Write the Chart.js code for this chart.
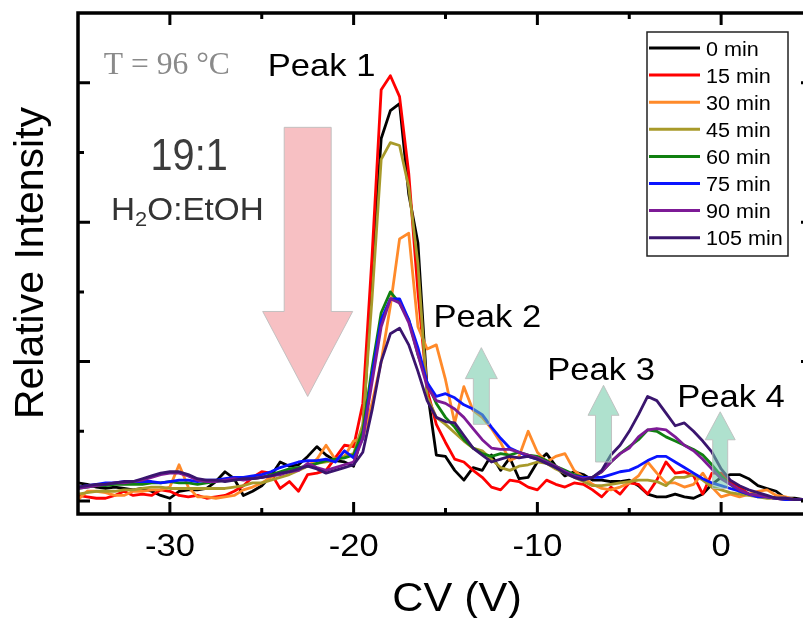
<!DOCTYPE html>
<html>
<head>
<meta charset="utf-8">
<script src="https://cdn.jsdelivr.net/npm/chart.js@4.4.1/dist/chart.umd.min.js"></script>
<style>
  html, body { margin: 0; padding: 0; background: #fff; overflow: hidden; }
  #wrap { width: 820px; height: 618px; }
</style>
</head>
<body>
<div id="wrap"><canvas id="cvChart" width="820" height="618"></canvas></div>
<script>
// compensation voltage grid (V)
const cv = [-35,-34.5,-34,-33.5,-33,-32.5,-32,-31.5,-31,-30.5,
  -30,-29.5,-29,-28.5,-28,-27.5,-27,-26.5,-26,-25.5,
  -25,-24.5,-24,-23.5,-23,-22.5,-22,-21.5,-21,-20.5,
  -20,-19.5,-19,-18.5,-18,-17.5,-17,-16.5,-16,-15.5,
  -15,-14.5,-14,-13.5,-13,-12.5,-12,-11.5,-11,-10.5,
  -10,-9.5,-9,-8.5,-8,-7.5,-7,-6.5,-6,-5.5,
  -5,-4.5,-4,-3.5,-3,-2.5,-2,-1.5,-1,-0.5,
  0,0.5,1,1.5,2,2.5,3,3.5,4,4.5];

// relative intensity for each heating time
const min0 = [0.13,0.12,0.10,0.09,0.10,0.09,0.08,0.09,0.07,0.04,
  0.02,0.07,0.08,0.08,0.09,0.14,0.21,0.16,0.04,0.07,
  0.11,0.18,0.28,0.25,0.26,0.32,0.39,0.33,0.29,0.28,
  0.25,0.5,1.6,2.6,2.8,2.85,2.2,1.85,0.8,0.33,
  0.32,0.22,0.15,0.24,0.22,0.33,0.22,0.31,0.16,0.17,
  0.28,0.34,0.25,0.18,0.21,0.19,0.15,0.15,0.14,0.14,
  0.15,0.11,0.05,0.03,0.03,0.05,0.03,0.02,0.05,0.12,
  0.17,0.19,0.19,0.16,0.11,0.09,0.07,0.02,0.02,0.01];
const min15 = [0.04,0.03,0.02,0.02,0.04,0.07,0.04,0.05,0.04,0.08,
  0.07,0.04,0.03,0.04,0.02,0.03,0.04,0.07,0.11,0.17,
  0.21,0.2,0.09,0.14,0.07,0.19,0.2,0.22,0.31,0.40,
  0.39,0.7,1.75,2.95,3.05,2.9,2.35,1.5,0.8,0.55,
  0.42,0.3,0.28,0.22,0.17,0.1,0.08,0.15,0.14,0.1,
  0.08,0.15,0.12,0.1,0.13,0.12,0.08,0.03,0.1,0.05,
  0.13,0.12,0.05,0.15,0.28,0.2,0.21,0.18,0.05,0.2,
  0.2,0.14,0.1,0.05,0.04,0.03,0.02,0.01,0.01,0.01];
const min30 = [0.01,0.07,0.07,0.06,0.04,0.04,0.07,0.07,0.08,0.08,
  0.1,0.26,0.1,0.03,0.03,0.02,0.03,0.04,0.08,0.1,
  0.13,0.17,0.2,0.22,0.23,0.25,0.3,0.40,0.3,0.32,
  0.43,0.45,0.7,1.0,1.4,1.88,1.92,1.25,1.09,1.12,
  0.87,0.56,0.82,0.65,0.6,0.52,0.42,0.29,0.32,0.5,
  0.35,0.28,0.32,0.34,0.22,0.17,0.12,0.09,0.08,0.1,
  0.13,0.18,0.28,0.2,0.13,0.13,0.1,0.12,0.2,0.1,
  0.03,0.05,0.03,0.05,0.07,0.08,0.04,0.03,0.01,0.01];
const min45 = [0.05,0.06,0.07,0.07,0.07,0.08,0.08,0.09,0.1,0.1,
  0.09,0.09,0.09,0.09,0.09,0.09,0.09,0.1,0.11,0.13,
  0.13,0.15,0.17,0.19,0.22,0.25,0.27,0.28,0.29,0.32,
  0.34,0.55,1.45,2.45,2.57,2.55,2.25,1.7,0.75,0.6,
  0.55,0.49,0.43,0.38,0.36,0.3,0.24,0.22,0.25,0.26,
  0.28,0.27,0.23,0.2,0.17,0.14,0.11,0.11,0.12,0.13,
  0.14,0.15,0.15,0.14,0.11,0.17,0.17,0.19,0.15,0.1,
  0.08,0.06,0.05,0.04,0.03,0.02,0.02,0.01,0.01,0.01];
const min60 = [0.09,0.1,0.11,0.11,0.12,0.12,0.12,0.12,0.13,0.13,
  0.14,0.13,0.13,0.12,0.13,0.14,0.15,0.15,0.16,0.16,
  0.17,0.19,0.21,0.23,0.24,0.25,0.27,0.29,0.3,0.31,
  0.33,0.5,0.95,1.35,1.5,1.42,1.3,1.05,0.85,0.7,
  0.6,0.53,0.44,0.38,0.34,0.32,0.34,0.33,0.35,0.33,
  0.32,0.29,0.25,0.22,0.19,0.17,0.17,0.21,0.28,0.34,
  0.39,0.44,0.51,0.5,0.46,0.43,0.4,0.37,0.33,0.26,
  0.18,0.12,0.07,0.05,0.04,0.03,0.02,0.02,0.01,0.01];
const min75 = [0.1,0.11,0.12,0.13,0.13,0.14,0.14,0.14,0.14,0.13,
  0.14,0.15,0.15,0.14,0.15,0.15,0.16,0.17,0.17,0.18,
  0.19,0.21,0.24,0.26,0.28,0.29,0.29,0.3,0.28,0.36,
  0.31,0.45,0.9,1.3,1.45,1.45,1.3,1.1,0.85,0.75,
  0.77,0.74,0.69,0.66,0.62,0.53,0.45,0.38,0.35,0.32,
  0.3,0.28,0.24,0.21,0.18,0.17,0.17,0.17,0.19,0.21,
  0.22,0.25,0.29,0.32,0.32,0.28,0.24,0.2,0.16,0.13,
  0.11,0.09,0.07,0.05,0.03,0.03,0.02,0.01,0.01,0.01];
const min90 = [0.09,0.1,0.11,0.12,0.13,0.13,0.14,0.15,0.17,0.19,
  0.2,0.2,0.18,0.15,0.14,0.14,0.15,0.16,0.15,0.16,
  0.17,0.18,0.19,0.21,0.22,0.27,0.24,0.22,0.24,0.26,
  0.28,0.45,0.85,1.25,1.45,1.42,1.28,1.05,0.82,0.72,
  0.7,0.66,0.6,0.52,0.44,0.38,0.37,0.37,0.35,0.33,
  0.31,0.28,0.25,0.21,0.18,0.16,0.17,0.21,0.28,0.34,
  0.38,0.46,0.51,0.52,0.51,0.46,0.4,0.36,0.3,0.23,
  0.16,0.12,0.08,0.05,0.04,0.03,0.02,0.02,0.01,0.01];
const min105 = [0.1,0.11,0.12,0.12,0.13,0.14,0.14,0.16,0.18,0.2,
  0.21,0.21,0.19,0.16,0.15,0.15,0.14,0.15,0.16,0.16,
  0.17,0.18,0.2,0.21,0.23,0.25,0.23,0.2,0.22,0.24,
  0.26,0.35,0.65,1.0,1.2,1.24,1.12,0.93,0.72,0.6,
  0.57,0.56,0.47,0.38,0.33,0.28,0.3,0.32,0.31,0.32,
  0.3,0.27,0.24,0.2,0.17,0.15,0.17,0.22,0.33,0.4,
  0.5,0.62,0.75,0.72,0.63,0.54,0.56,0.5,0.43,0.35,
  0.23,0.15,0.11,0.08,0.06,0.04,0.02,0.02,0.01,0.01];

const seriesLabels = ['0 min', '15 min', '30 min', '45 min', '60 min', '75 min', '90 min', '105 min'];
const seriesColors = ['#000000', '#ff0000', '#ff8a2a', '#a89a2a', '#108010', '#0a14ff', '#7d1a96', '#3a156e'];

const xTickLabels = [-30, -20, -10, 0];
const xMinorTicks = [-25, -15, -5];
const yMajorTicks = [0, 1, 2, 3];
const yMinorTicks = [0.5, 1.5, 2.5];

const SANS = '"Liberation Sans", Arial, sans-serif';
const SERIF = '"Liberation Serif", "Times New Roman", serif';

// text drawn slightly wide, like the exported figure
function wideText(ctx, text, x, y, font, color, align, sx) {
  ctx.save();
  ctx.font = font;
  ctx.fillStyle = color;
  ctx.textAlign = align || 'left';
  ctx.textBaseline = 'alphabetic';
  ctx.translate(x, y);
  ctx.scale(sx || 1.08, 1);
  ctx.fillText(text, 0, 0);
  ctx.restore();
}

function blockArrow(ctx, x, yTail, yTip, shaft, head, headLen, fill, stroke) {
  const dir = yTip > yTail ? 1 : -1;
  const yBase = yTip - dir * headLen;
  ctx.beginPath();
  ctx.moveTo(x - shaft / 2, yTail);
  ctx.lineTo(x - shaft / 2, yBase);
  ctx.lineTo(x - head / 2, yBase);
  ctx.lineTo(x, yTip);
  ctx.lineTo(x + head / 2, yBase);
  ctx.lineTo(x + shaft / 2, yBase);
  ctx.lineTo(x + shaft / 2, yTail);
  ctx.closePath();
  ctx.fillStyle = fill;
  ctx.fill();
  ctx.strokeStyle = stroke;
  ctx.lineWidth = 1;
  ctx.stroke();
}

const decorations = {
  id: 'decorations',
  afterDatasetsDraw(chart) {
    const { ctx, chartArea: a, scales: { x, y } } = chart;
    ctx.save();

    // trend arrows (drawn over the traces, half transparent)
    const pink = 'rgba(240,130,135,0.5)';
    const mint = 'rgba(110,200,165,0.55)';
    const edge = 'rgba(190,190,190,0.9)';
    blockArrow(ctx, x.getPixelForValue(-22.5), y.getPixelForValue(2.68), y.getPixelForValue(0.75), 47, 90, 85, pink, edge);
    blockArrow(ctx, x.getPixelForValue(-13.05), y.getPixelForValue(0.55), y.getPixelForValue(1.1), 16, 32, 31, mint, edge);
    blockArrow(ctx, x.getPixelForValue(-6.4), y.getPixelForValue(0.28), y.getPixelForValue(0.83), 16, 31, 30, mint, edge);
    blockArrow(ctx, x.getPixelForValue(-0.05), y.getPixelForValue(0.09), y.getPixelForValue(0.64), 15, 30, 28, mint, edge);

    // frame with inward ticks on all four sides
    ctx.strokeStyle = '#000';
    ctx.lineWidth = 3.5;
    ctx.strokeRect(a.left, a.top, a.right - a.left, a.bottom - a.top);
    ctx.lineWidth = 3;
    ctx.beginPath();
    const xTick = (v, len) => {
      const px = x.getPixelForValue(v);
      ctx.moveTo(px, a.bottom); ctx.lineTo(px, a.bottom - len);
      ctx.moveTo(px, a.top); ctx.lineTo(px, a.top + len);
    };
    const yTick = (v, len) => {
      const py = y.getPixelForValue(v);
      ctx.moveTo(a.left, py); ctx.lineTo(a.left + len, py);
      ctx.moveTo(a.right, py); ctx.lineTo(a.right - len, py);
    };
    xTickLabels.forEach(v => xTick(v, 12));
    xMinorTicks.forEach(v => xTick(v, 6));
    yMajorTicks.forEach(v => yTick(v, 12));
    yMinorTicks.forEach(v => yTick(v, 6));
    ctx.stroke();

    // x tick labels and axis titles
    xTickLabels.forEach(v => {
      wideText(ctx, String(v), x.getPixelForValue(v), a.bottom + 42, '32px ' + SANS, '#000', 'center');
    });
    wideText(ctx, 'CV (V)', 457, 611, '40px ' + SANS, '#000', 'center');
    ctx.save();
    ctx.translate(43, 263);
    ctx.rotate(-Math.PI / 2);
    ctx.font = '41px ' + SANS;
    ctx.fillStyle = '#000';
    ctx.textAlign = 'center';
    ctx.textBaseline = 'alphabetic';
    ctx.fillText('Relative Intensity', 0, 0);
    ctx.restore();

    // annotations
    const at = (vx, vy) => [x.getPixelForValue(vx), y.getPixelForValue(vy)];
    let p = at(-33.6, 3.06);
    wideText(ctx, 'T = 96 °C', p[0], p[1], '31px ' + SERIF, '#8a8a8a', 'left', 1.02);
    p = at(-24.67, 3.05);
    wideText(ctx, 'Peak 1', p[0], p[1], '32px ' + SANS, '#000');
    p = at(-15.65, 1.25);
    wideText(ctx, 'Peak 2', p[0], p[1], '32px ' + SANS, '#000');
    p = at(-9.46, 0.87);
    wideText(ctx, 'Peak 3', p[0], p[1], '32px ' + SANS, '#000');
    p = at(-2.39, 0.675);
    wideText(ctx, 'Peak 4', p[0], p[1], '32px ' + SANS, '#000');
    p = at(-31.05, 2.375);
    wideText(ctx, '19:1', p[0], p[1], '44px ' + SANS, '#3c3c3c', 'left', 0.9);

    // H2O:EtOH with subscript
    p = at(-33.2, 2.017);
    const sx = 1.04;
    ctx.font = '32px ' + SANS;
    const wH = ctx.measureText('H').width * sx;
    ctx.font = '21px ' + SANS;
    const w2 = ctx.measureText('2').width * sx;
    wideText(ctx, 'H', p[0], p[1], '32px ' + SANS, '#333', 'left', sx);
    wideText(ctx, '2', p[0] + wH, p[1] + 6, '21px ' + SANS, '#333', 'left', sx);
    wideText(ctx, 'O:EtOH', p[0] + wH + w2, p[1], '32px ' + SANS, '#333', 'left', sx);

    // legend box
    const lx = a.right - 166, ly = a.top + 19;
    ctx.fillStyle = '#fff';
    ctx.fillRect(lx, ly, 141, 224);
    ctx.strokeStyle = '#222';
    ctx.lineWidth = 1.5;
    ctx.strokeRect(lx, ly, 141, 224);
    chart.data.datasets.forEach((ds, i) => {
      const ry = ly + 16 + i * 27.1;
      ctx.strokeStyle = ds.borderColor;
      ctx.lineWidth = 3;
      ctx.beginPath();
      ctx.moveTo(lx + 2, ry);
      ctx.lineTo(lx + 53, ry);
      ctx.stroke();
      wideText(ctx, ds.label, lx + 59, ry + 7.5, '20px ' + SANS, '#000');
    });

    ctx.restore();
  }
};

const series = [min0, min15, min30, min45, min60, min75, min90, min105];
const datasets = series.map((vals, i) => ({
  label: seriesLabels[i],
  data: cv.map((c, k) => ({ x: c, y: vals[k] })),
  borderColor: seriesColors[i],
  borderWidth: 2.8,
  borderJoinStyle: 'round',
  pointRadius: 0,
  tension: 0,
  order: series.length - i,
}));

new Chart(document.getElementById('cvChart'), {
  type: 'line',
  data: { datasets },
  options: {
    responsive: false,
    animation: false,
    devicePixelRatio: 1,
    events: [],
    layout: { padding: { left: 78, top: 13, right: 7, bottom: 104 } },
    scales: {
      x: { type: 'linear', min: -35, max: 5, display: false },
      y: { type: 'linear', min: -0.093, max: 3.5, display: false },
    },
    plugins: {
      legend: { display: false },
      tooltip: { enabled: false },
    },
  },
  plugins: [decorations],
});
</script>
</body>
</html>
